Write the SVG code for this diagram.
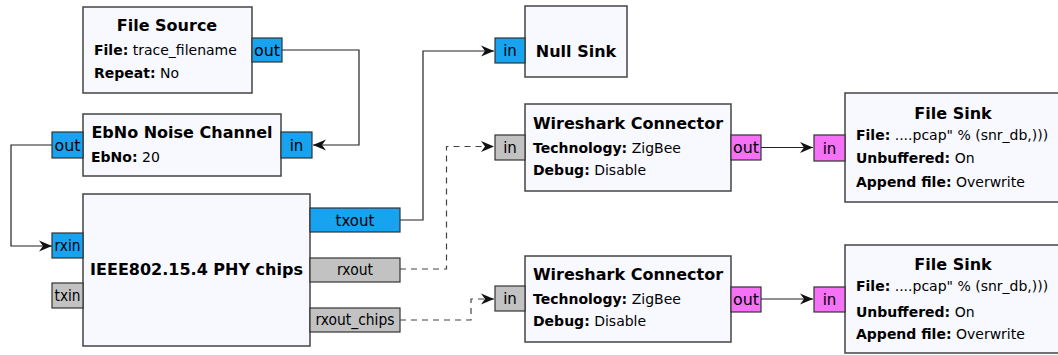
<svg xmlns="http://www.w3.org/2000/svg" width="1058" height="355" viewBox="0 0 1058 355">
<style>
text{font-family:"DejaVu Sans","Liberation Sans",sans-serif;fill:#000}
.box{fill:#f8f8ff;stroke:#444;stroke-width:1.5}
.pb{fill:#17a3f0;stroke:#333;stroke-width:1.2}
.pg{fill:#c2c2c2;stroke:#333;stroke-width:1.2}
.pp{fill:#f571f5;stroke:#333;stroke-width:1.2}
.pt{font-size:15px;text-anchor:middle}
.title{font-size:16px;font-weight:bold;text-anchor:middle}
.prm{font-size:14px}
.prm tspan.k{font-weight:bold}
.c{fill:none;stroke:#222;stroke-width:1.2}
.d{fill:none;stroke:#444;stroke-width:1.2;stroke-dasharray:6,5}
</style>
<defs>
<marker id="ah" viewBox="-14 -7 16 14" refX="0" refY="0" markerWidth="16" markerHeight="14" markerUnits="userSpaceOnUse" orient="auto">
<path d="M0,0 L-13,-5.5 L-9,0 L-13,5.5 Z" fill="#111"/>
</marker>
</defs>
<g id="connectors">
<polyline class="c" points="282,50 359,50 359,145 313,145" marker-end="url(#ah)"/>
<polyline class="c" points="52,145 11,145 11,246 52,246" marker-end="url(#ah)"/>
<polyline class="c" points="400,220 423,220 423,51 494,51" marker-end="url(#ah)"/>
<polyline class="d" points="400,269 446.5,269 446.5,146.5 494,146.5" marker-end="url(#ah)"/>
<polyline class="d" points="400,320 471,320 471,299 494,299" marker-end="url(#ah)"/>
<polyline class="c" points="761,147.5 813,147.5" marker-end="url(#ah)"/>
<polyline class="c" points="761,299 813,299" marker-end="url(#ah)"/>
</g>
<g id="file_source">
<rect class="box" x="83" y="7" width="169" height="86"/>
<text class="title" x="167" y="31">File Source</text>
<text class="prm" x="94" y="55"><tspan class="k">File:</tspan> trace_filename</text>
<text class="prm" x="94" y="77.5"><tspan class="k">Repeat:</tspan> No</text>
<rect class="pb" x="252" y="38" width="30" height="24"/>
<text class="pt" x="267" y="55.5" textLength="26" lengthAdjust="spacingAndGlyphs">out</text>
</g>
<g id="ebno_channel">
<rect class="box" x="83" y="114" width="198" height="62"/>
<text class="title" x="182" y="138">EbNo Noise Channel</text>
<text class="prm" x="91" y="161.5"><tspan class="k">EbNo:</tspan> 20</text>
<rect class="pb" x="281" y="132" width="31" height="26"/>
<text class="pt" x="296.5" y="150.5">in</text>
<rect class="pb" x="52" y="132" width="31" height="26"/>
<text class="pt" x="67.5" y="150.5" textLength="26" lengthAdjust="spacingAndGlyphs">out</text>
</g>
<g id="phy">
<rect class="box" x="83" y="194" width="227" height="152"/>
<text class="title" x="196.5" y="275">IEEE802.15.4 PHY chips</text>
<rect class="pb" x="52" y="233" width="31" height="25"/>
<text class="pt" x="67.5" y="251" textLength="26" lengthAdjust="spacingAndGlyphs">rxin</text>
<rect class="pg" x="52" y="283" width="31" height="25"/>
<text class="pt" x="67.5" y="301" textLength="26" lengthAdjust="spacingAndGlyphs">txin</text>
<rect class="pb" x="310" y="208" width="90" height="24"/>
<text class="pt" x="355" y="225.5">txout</text>
<rect class="pg" x="310" y="258" width="90" height="24"/>
<text class="pt" x="355" y="275" textLength="36" lengthAdjust="spacingAndGlyphs">rxout</text>
<rect class="pg" x="310" y="308" width="90" height="24"/>
<text class="pt" x="355" y="325" textLength="79" lengthAdjust="spacingAndGlyphs">rxout_chips</text>
</g>
<g id="null_sink">
<rect class="box" x="525" y="6" width="102" height="71"/>
<text class="title" x="576" y="56.5">Null Sink</text>
<rect class="pb" x="495" y="38" width="30" height="25"/>
<text class="pt" x="510" y="56">in</text>
</g>
<g id="wireshark1">
<rect class="box" x="525" y="104" width="206" height="87"/>
<text class="title" x="628" y="129">Wireshark Connector</text>
<text class="prm" x="533" y="152.5"><tspan class="k">Technology:</tspan> ZigBee</text>
<text class="prm" x="533" y="174.5"><tspan class="k">Debug:</tspan> Disable</text>
<rect class="pg" x="495" y="135" width="30" height="25"/>
<text class="pt" x="510" y="153">in</text>
<rect class="pp" x="731" y="135" width="30" height="25"/>
<text class="pt" x="746" y="153" textLength="26" lengthAdjust="spacingAndGlyphs">out</text>
</g>
<g id="wireshark2">
<rect class="box" x="525" y="256" width="206" height="86"/>
<text class="title" x="628" y="280">Wireshark Connector</text>
<text class="prm" x="533" y="304"><tspan class="k">Technology:</tspan> ZigBee</text>
<text class="prm" x="533" y="326"><tspan class="k">Debug:</tspan> Disable</text>
<rect class="pg" x="495" y="286" width="30" height="25"/>
<text class="pt" x="510" y="304">in</text>
<rect class="pp" x="731" y="287" width="30" height="25"/>
<text class="pt" x="746" y="305" textLength="26" lengthAdjust="spacingAndGlyphs">out</text>
</g>
<g id="file_sink1">
<rect class="box" x="845" y="93" width="216" height="109"/>
<text class="title" x="953" y="118.5">File Sink</text>
<text class="prm" x="856" y="139.5"><tspan class="k">File:</tspan> ....pcap" % (snr_db,)))</text>
<text class="prm" x="856" y="162.5"><tspan class="k">Unbuffered:</tspan> On</text>
<text class="prm" x="856" y="186.5"><tspan class="k">Append file:</tspan> Overwrite</text>
<rect class="pp" x="814" y="135" width="31" height="26"/>
<text class="pt" x="829.5" y="153.5">in</text>
</g>
<g id="file_sink2">
<rect class="box" x="845" y="245" width="216" height="108"/>
<text class="title" x="953" y="270">File Sink</text>
<text class="prm" x="856" y="291"><tspan class="k">File:</tspan> ....pcap" % (snr_db,)))</text>
<text class="prm" x="856" y="316.5"><tspan class="k">Unbuffered:</tspan> On</text>
<text class="prm" x="856" y="338.5"><tspan class="k">Append file:</tspan> Overwrite</text>
<rect class="pp" x="814" y="287" width="31" height="25"/>
<text class="pt" x="829.5" y="305">in</text>
</g>
</svg>
